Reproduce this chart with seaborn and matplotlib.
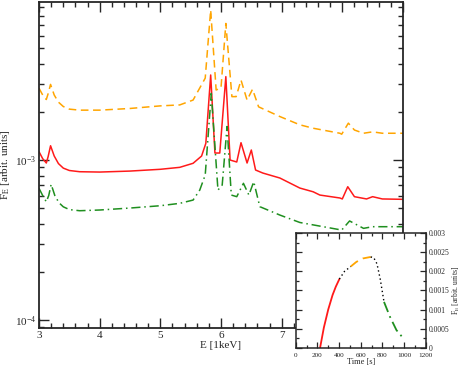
import numpy as np
import pandas as pd
import matplotlib
matplotlib.use("Agg")
import matplotlib.pyplot as plt
import seaborn as sns
from matplotlib.ticker import MultipleLocator, LogLocator, NullFormatter

# ------------------ Spectra (E in keV, flux in arbit. units) ------------------
energy_red = [3.0, 3.06, 3.12, 3.15, 3.19, 3.25, 3.32, 3.4, 3.5, 3.67, 4.0, 4.5, 5.0, 5.32,
              5.54, 5.68, 5.75, 5.83, 5.90, 5.98, 6.08, 6.15, 6.26, 6.33, 6.43, 6.50, 6.57,
              6.69, 6.97, 7.30, 7.52, 7.63, 7.96, 8.0, 8.09, 8.2, 8.4, 8.5, 8.66, 9.0]
flux_red = [1.127e-3, 1.02e-3, 0.958e-3, 1.05e-3, 1.228e-3, 1.06e-3, 0.95e-3, 0.89e-3,
            0.86e-3, 0.845e-3, 0.841e-3, 0.853e-3, 0.875e-3, 0.900e-3, 0.954e-3, 1.059e-3,
            1.271e-3, 3.40e-3, 1.106e-3, 1.106e-3, 3.32e-3, 1.0e-3, 0.972e-3, 1.283e-3,
            0.958e-3, 1.155e-3, 0.866e-3, 0.829e-3, 0.772e-3, 0.668e-3, 0.633e-3, 0.604e-3,
            0.579e-3, 0.571e-3, 0.681e-3, 0.590e-3, 0.571e-3, 0.590e-3, 0.571e-3, 0.568e-3]

energy_orange = [3.0, 3.06, 3.12, 3.15, 3.19, 3.25, 3.32, 3.4, 3.5, 3.67, 4.0, 4.5, 5.0,
                 5.32, 5.54, 5.74, 5.83, 5.92, 6.0, 6.08, 6.18, 6.25, 6.33, 6.43, 6.52,
                 6.62, 6.97, 7.30, 7.52, 7.96, 7.99, 8.10, 8.2, 8.35, 8.5, 8.66, 9.0]
flux_orange = [2.81e-3, 2.55e-3, 2.39e-3, 2.60e-3, 2.97e-3, 2.55e-3, 2.30e-3, 2.16e-3,
               2.08e-3, 2.05e-3, 2.05e-3, 2.10e-3, 2.18e-3, 2.21e-3, 2.37e-3, 3.25e-3,
               8.66e-3, 2.74e-3, 2.82e-3, 7.14e-3, 2.49e-3, 2.49e-3, 3.16e-3, 2.37e-3,
               2.77e-3, 2.15e-3, 1.87e-3, 1.66e-3, 1.58e-3, 1.47e-3, 1.45e-3, 1.70e-3,
               1.54e-3, 1.47e-3, 1.50e-3, 1.47e-3, 1.47e-3]

energy_green = [3.0, 3.06, 3.12, 3.16, 3.2, 3.26, 3.33, 3.4, 3.5, 3.67, 4.0, 4.5, 5.0, 5.32,
                5.54, 5.65, 5.74, 5.84, 5.95, 6.02, 6.10, 6.17, 6.26, 6.37, 6.46, 6.54, 6.64,
                6.97, 7.30, 7.99, 8.12, 8.35, 8.5, 9.0]
flux_green = [0.665e-3, 0.60e-3, 0.548e-3, 0.60e-3, 0.705e-3, 0.60e-3, 0.54e-3, 0.51e-3,
              0.49e-3, 0.482e-3, 0.487e-3, 0.501e-3, 0.518e-3, 0.536e-3, 0.562e-3, 0.649e-3,
              0.806e-3, 2.61e-3, 0.649e-3, 0.698e-3, 1.62e-3, 0.604e-3, 0.590e-3, 0.715e-3,
              0.604e-3, 0.732e-3, 0.511e-3, 0.453e-3, 0.407e-3, 0.365e-3, 0.416e-3,
              0.374e-3, 0.383e-3, 0.383e-3]

# ------------------ Light curve (inset) ------------------
time_red = [225, 260, 300, 340, 370, 403]
lc_red = [0.0, 0.00053, 0.00100, 0.00138, 0.00160, 0.00180]
time_dot1 = [403, 450, 508]
lc_dot1 = [0.00180, 0.00200, 0.00213]
time_orange = [508, 560, 620, 692]
lc_orange = [0.00213, 0.00225, 0.00234, 0.00238]
time_dot2 = [692, 720, 750, 780, 815]
lc_dot2 = [0.00238, 0.00236, 0.00220, 0.00180, 0.00120]
time_green = [815, 870, 930, 995]
lc_green = [0.00120, 0.00081, 0.00046, 0.00024]

RED = "#ff1a1a"
ORANGE = "#ffa500"
GREEN = "#1f8f1f"

sns.set_style("ticks")
plt.rcParams["font.family"] = ["Liberation Serif", "DejaVu Serif"]
plt.rcParams["mathtext.fontset"] = "stix"
plt.rcParams["xtick.direction"] = "in"
plt.rcParams["ytick.direction"] = "in"

fig = plt.figure(figsize=(4.63, 3.70), dpi=100)
ax = fig.add_axes([0.0843, 0.1135, 0.786, 0.881])

sns.lineplot(x=energy_orange, y=flux_orange, ax=ax, color=ORANGE, linestyle=(0, (5, 3)), lw=1.1)
sns.lineplot(x=energy_red, y=flux_red, ax=ax, color=RED, lw=1.1)
sns.lineplot(x=energy_green, y=flux_green, ax=ax, color=GREEN, linestyle=(0, (6, 2.5, 1, 2.5)), lw=1.1)

ax.set_yscale("log")
ax.set_xlim(3, 9)
ax.set_ylim(10 ** -4.05, 10 ** -2.0125)
ax.xaxis.set_major_locator(MultipleLocator(1))
ax.xaxis.set_minor_locator(MultipleLocator(0.2))
ax.yaxis.set_major_locator(LogLocator(base=10, numticks=10))
ax.yaxis.set_minor_locator(LogLocator(base=10, subs=np.arange(2, 10), numticks=10))
ax.yaxis.set_minor_formatter(NullFormatter())
ax.tick_params(which="both", top=True, right=True, labelsize=8, width=1.0, pad=2)
ax.tick_params(which="major", length=7)
ax.tick_params(which="minor", length=3.5)
for s in ax.spines.values():
    s.set_linewidth(1.3)
ax.set_xlabel("E [1keV]", fontsize=8, labelpad=1)
ax.set_ylabel(r"F$_\mathrm{E}$ [arbit. units]", fontsize=8, labelpad=2)

# ------------------ Inset ------------------
ins = fig.add_axes([0.6387, 0.0603, 0.2808, 0.3092])
ins.set_facecolor("white")
sns.lineplot(x=time_red, y=lc_red, ax=ins, color=RED, lw=1.3)
sns.lineplot(x=time_dot1, y=lc_dot1, ax=ins, color="black", linestyle=(0, (1, 2)), lw=1.0)
sns.lineplot(x=time_orange, y=lc_orange, ax=ins, color=ORANGE, linestyle=(0, (5, 3)), lw=1.3)
sns.lineplot(x=time_dot2, y=lc_dot2, ax=ins, color="black", linestyle=(0, (1, 2)), lw=1.0)
sns.lineplot(x=time_green, y=lc_green, ax=ins, color=GREEN, linestyle=(0, (6, 2.5, 1, 2.5)), lw=1.3)
ins.set_xlim(0, 1200)
ins.set_ylim(0, 0.003)
ins.xaxis.set_major_locator(MultipleLocator(200))
ins.xaxis.set_minor_locator(MultipleLocator(100))
ins.yaxis.set_major_locator(MultipleLocator(0.0005))
ins.yaxis.set_minor_locator(MultipleLocator(0.00025))
ins.yaxis.set_major_formatter(plt.FuncFormatter(lambda v, p: "0" if v == 0 else f"{v:g}"))
ins.yaxis.tick_right()
ins.yaxis.set_label_position("right")
ins.tick_params(which="both", top=True, left=True, right=True, labelsize=5.5, width=0.9, pad=2)
ins.tick_params(axis="x", labelsize=5.2, pad=3.5)
ins.tick_params(which="major", length=4)
ins.tick_params(which="minor", length=2)
for s in ins.spines.values():
    s.set_linewidth(1.1)
ins.set_xlabel("Time [s]", fontsize=6, labelpad=0)
ins.set_ylabel(r"F$_\mathrm{E}$ [arbit. units]", fontsize=5.5, labelpad=1)

fig.savefig("out.png", dpi=100)
